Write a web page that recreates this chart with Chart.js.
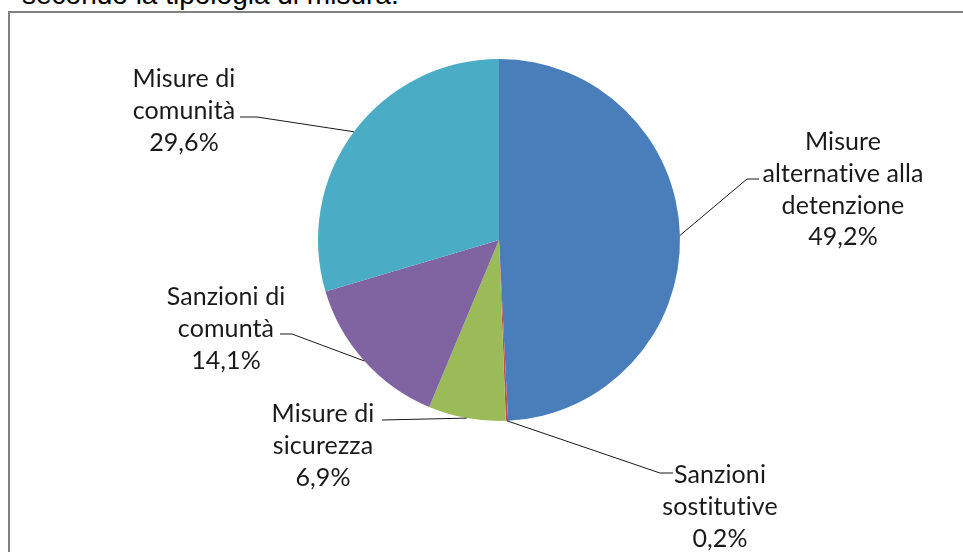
<!DOCTYPE html>
<html>
<head>
<meta charset="utf-8">
<script src="https://cdn.jsdelivr.net/npm/chart.js@4.4.1/dist/chart.umd.min.js"></script>
<style>
  html, body { margin: 0; padding: 0; background: #fff; overflow: hidden; }
  #wrap { position: relative; width: 963px; height: 552px; }
  #titolo {
    position: absolute; left: 22px; top: -21px;
    font: 28px "Liberation Sans", Arial, sans-serif; line-height: 32px;
    color: #000; white-space: nowrap;
  }
  #cornice {
    position: absolute; left: 8px; top: 11px; width: 1000px; height: 600px;
    border: 2px solid #808080; box-sizing: border-box;
  }
  #grafico { position: absolute; left: 0; top: 0; }
</style>
</head>
<body>
<div id="wrap">
  <div id="titolo">secondo la tipologia di misura.</div>
  <div id="cornice"></div>
  <canvas id="grafico" width="963" height="552"></canvas>
</div>
<script>
// dati: misure per tipologia (% sul totale)
const categorie = [
  'Misure\nalternative alla\ndetenzione',
  'Sanzioni\nsostitutive',
  'Misure di\nsicurezza',
  'Sanzioni di\ncomuntà',
  'Misure di\ncomunità'
];
const percentuali = [49.2, 0.2, 6.9, 14.1, 29.6];
const colori = ['#4a7ebb', '#c0504d', '#9bbb59', '#8064a2', '#4bacc6'];

// posizione delle etichette (centro testo, prima baseline, fine linea guida, fine tratto orizzontale)
const posEtichette = [
  { x: 843, y: 150, fx: 747, fy: 179, sx: 759 },
  { x: 720, y: 483, fx: 660, fy: 473, sx: 673 },
  { x: 323, y: 422, fx: 382, fy: 420, sx: 382 },
  { x: 226, y: 305, fx: 292, fy: 334, sx: 280 },
  { x: 184, y: 87,  fx: 257, fy: 117, sx: 240 }
];

const etichettePlugin = {
  id: 'etichette',
  afterDatasetsDraw(chart) {
    const ctx = chart.ctx;
    const meta = chart.getDatasetMeta(0);
    ctx.save();
    meta.data.forEach((arc, i) => {
      const p = posEtichette[i];
      const mid = (arc.startAngle + arc.endAngle) / 2;
      const ax = arc.x + Math.cos(mid) * arc.outerRadius;
      const ay = arc.y + Math.sin(mid) * arc.outerRadius;
      // linea guida
      ctx.strokeStyle = '#1a1a1a';
      ctx.lineWidth = 1;
      ctx.beginPath();
      ctx.moveTo(ax, ay);
      ctx.lineTo(p.fx, p.fy);
      ctx.lineTo(p.sx, p.fy);
      ctx.stroke();
      // testo (senza legature "ti")
      const righe = categorie[i].split('\n');
      righe.push(percentuali[i].toFixed(1).replace('.', ',') + '%');
      ctx.fillStyle = '#1a1a1a';
      ctx.font = '25px Lato, "Open Sans", sans-serif';
      ctx.textRendering = 'optimizeSpeed';
      ctx.letterSpacing = '0.1px';
      ctx.textAlign = 'center';
      ctx.textBaseline = 'alphabetic';
      righe.forEach((r, k) => ctx.fillText(r, p.x, p.y + k * 31.8));
    });
    ctx.restore();
  }
};

const ctx = document.getElementById('grafico').getContext('2d');
new Chart(ctx, {
  type: 'pie',
  data: {
    labels: categorie,
    datasets: [{
      data: percentuali,
      backgroundColor: colori,
      borderWidth: 0,
      hoverOffset: 0,
      offset: 0
    }]
  },
  options: {
    responsive: false,
    animation: false,
    layout: { padding: { left: 318, right: 283, top: 59, bottom: 131 } },
    plugins: {
      legend: { display: false },
      tooltip: { enabled: false }
    }
  },
  plugins: [etichettePlugin]
});
</script>
</body>
</html>
